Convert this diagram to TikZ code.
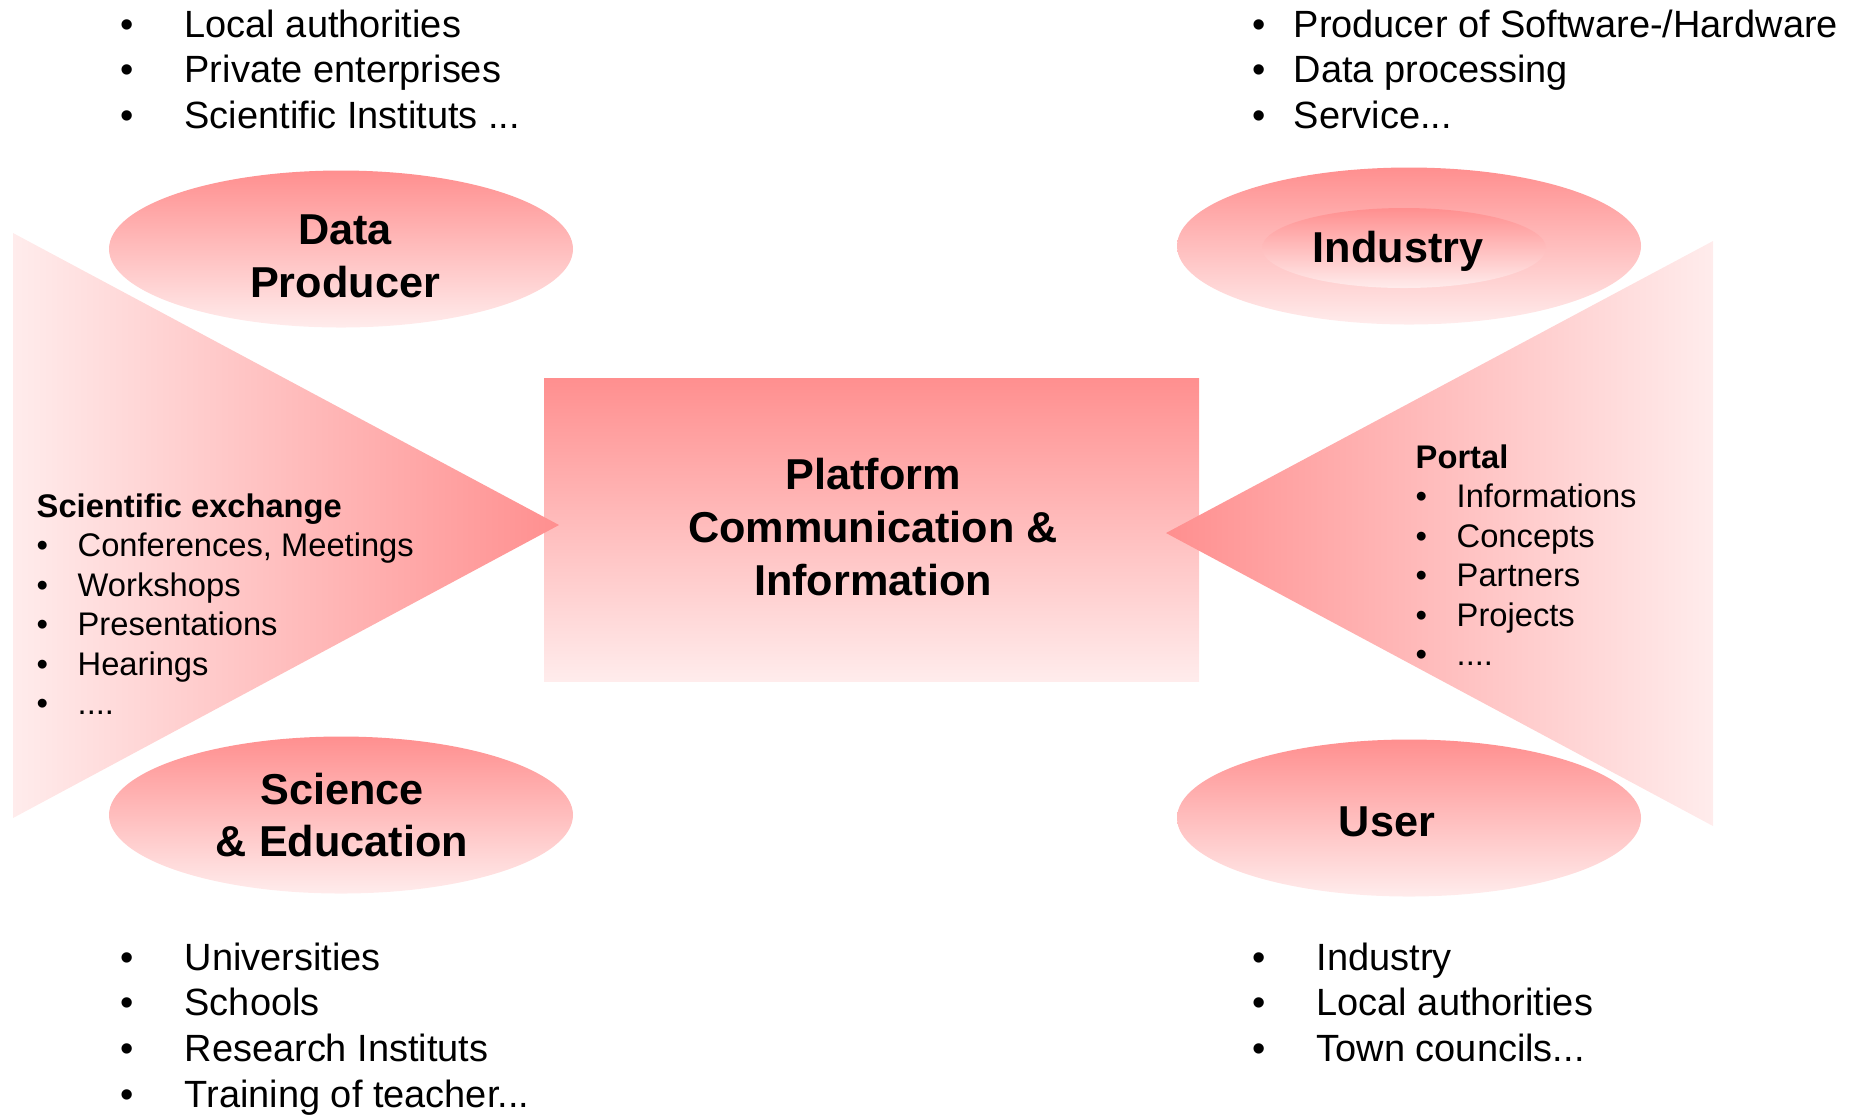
\documentclass[tikz,border=0pt]{standalone}
\usepackage{fontspec}
\setmainfont{Liberation Sans}
\usepackage{xcolor}
\usepackage{tikz}
\usetikzlibrary{shapes.geometric}
\definecolor{topred}{RGB}{255,143,143}
\definecolor{palered}{RGB}{255,236,236}
\tikzset{
group/.style = { ellipse, top color = topred, bottom color = palered, draw = none, minimum width = 46.4mm, minimum height = 15.7mm, inner sep = 0pt },
heading/.style = { font = \fontsize{12.3}{15}\selectfont\bfseries, align = center, inner sep = 0pt },
big list/.style = { anchor = base west, inner sep = 0pt, font = \fontsize{10.8}{13.05}\selectfont },
small list/.style = { anchor = base west, inner sep = 0pt, font = \fontsize{9.3}{11.25}\selectfont },
}
\newcommand{\dotitem}[1]{\makebox[#1][l]{\textbullet}}

\begin{document}
\begin{tikzpicture}[x = 0.1mm, y = -0.1mm]
    \useasboundingbox (0, 0) rectangle (1858, 1115);
    % centre box
    \node[rectangle, top color = topred, bottom color = palered, minimum width = 65.5mm, minimum height = 30.3mm, heading] (platform) at (871.5, 529.5) {};
    \node[heading] (platform label) at (873, 527) {Platform\\Communication \&\\Information};
    % wedges
    \shade[left color = palered, right color = topred] (13, 233) -- (559, 525) -- (13, 818) -- cycle;
    \shade[left color = topred, right color = palered] (1713, 241) -- (1166, 533) -- (1713, 826) -- cycle;
    % groups
    \node[group] (producer) at (341, 249) {};
    \node[group] (industry) at (1409, 246) {};
    \node[group, minimum width = 28.4mm, minimum height = 8mm] (industry core) at (1404, 248) {};
    \node[group] (science) at (341, 815) {};
    \node[group] (user) at (1409, 818) {};
    \node[heading] (producer label) at (345, 256) {Data\\Producer};
    \node[heading, anchor = base] (industry label) at (1398, 262) {Industry};
    \node[heading] (science label) at (342, 815) {Science\\\& Education};
    \node[heading, anchor = base] (user label) at (1387, 836) {User};
    % lists
    \node[big list] (producer list) at (120, 37) {\begin{tabular}[t]{@{}l@{}}
        \dotitem{6.4mm}Local authorities\\
        \dotitem{6.4mm}Private enterprises\\
        \dotitem{6.4mm}Scientific Instituts ...
    \end{tabular}};
    \node[big list] (industry list) at (1252, 37) {\begin{tabular}[t]{@{}l@{}}
        \dotitem{4.1mm}Producer of Software-/Hardware\\
        \dotitem{4.1mm}Data processing\\
        \dotitem{4.1mm}Service...
    \end{tabular}};
    \node[big list] (science list) at (120, 970) {\begin{tabular}[t]{@{}l@{}}
        \dotitem{6.4mm}Universities\\
        \dotitem{6.4mm}Schools\\
        \dotitem{6.4mm}Research Instituts\\
        \dotitem{6.4mm}Training of teacher...
    \end{tabular}};
    \node[big list] (user list) at (1252, 970) {\begin{tabular}[t]{@{}l@{}}
        \dotitem{6.4mm}Industry\\
        \dotitem{6.4mm}Local authorities\\
        \dotitem{6.4mm}Town councils...
    \end{tabular}};
    \node[small list] (exchange) at (36, 517) {\begin{tabular}[t]{@{}l@{}}
        \textbf{Scientific exchange}\\
        \dotitem{4.1mm}Conferences, Meetings\\
        \dotitem{4.1mm}Workshops\\
        \dotitem{4.1mm}Presentations\\
        \dotitem{4.1mm}Hearings\\
        \dotitem{4.1mm}....
    \end{tabular}};
    \node[small list] (portal) at (1415, 468) {\begin{tabular}[t]{@{}l@{}}
        \textbf{Portal}\\
        \dotitem{4.1mm}Informations\\
        \dotitem{4.1mm}Concepts\\
        \dotitem{4.1mm}Partners\\
        \dotitem{4.1mm}Projects\\
        \dotitem{4.1mm}....
    \end{tabular}};
\end{tikzpicture}
\end{document}
